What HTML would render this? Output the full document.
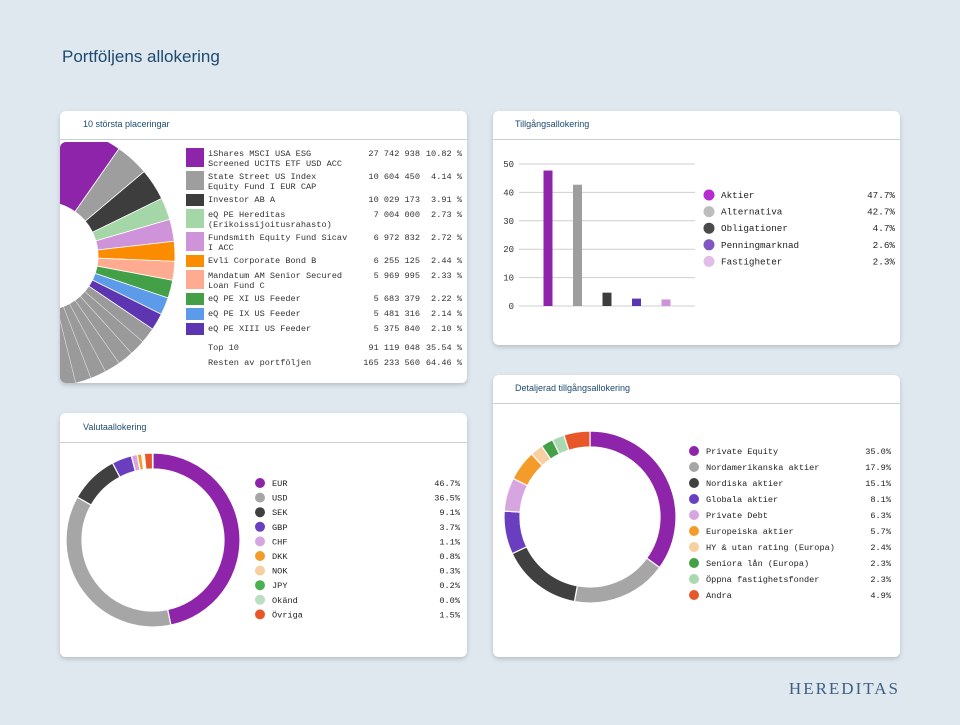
<!DOCTYPE html>
<html><head><meta charset="utf-8"><style>
html,body{margin:0;padding:0;background:#dfe7ef;}
body{width:960px;height:720px;position:relative;overflow:hidden;font-family:"Liberation Sans",sans-serif;}
svg text{font-family:"Liberation Mono",monospace;}
</style></head><body>
<svg id="s" width="960" height="720" viewBox="0 0 960 720" xmlns="http://www.w3.org/2000/svg">
<defs>
<filter id="sh" x="-5%" y="-5%" width="110%" height="115%"><feDropShadow dx="0" dy="2" stdDeviation="2" flood-color="#000" flood-opacity="0.18"/></filter>
<clipPath id="c1"><rect x="60" y="142" width="407" height="241" rx="6"/></clipPath>
</defs>
<text x="62" y="62" font-size="17" fill="#1d4a70" style="font-family:'Liberation Sans',sans-serif">Portföljens allokering</text>
<g filter="url(#sh)">
<rect x="60" y="111" width="407" height="272" rx="6" fill="#fff"/>
<rect x="493" y="111" width="407" height="234" rx="6" fill="#fff"/>
<rect x="60" y="413" width="407" height="244" rx="6" fill="#fff"/>
<rect x="493" y="375" width="407" height="282" rx="6" fill="#fff"/>
</g>
<line x1="60" y1="139.5" x2="467" y2="139.5" stroke="#c9cfd5"/>
<line x1="493" y1="139.5" x2="900" y2="139.5" stroke="#c9cfd5"/>
<line x1="60" y1="442.5" x2="467" y2="442.5" stroke="#c9cfd5"/>
<line x1="493" y1="403.5" x2="900" y2="403.5" stroke="#c9cfd5"/>
<g style="font-family:'Liberation Sans',sans-serif" font-size="9" fill="#1d4a70">
<text x="83" y="127" style="font-family:'Liberation Sans',sans-serif">10 största placeringar</text>
<text x="515" y="127" style="font-family:'Liberation Sans',sans-serif">Tillgångsallokering</text>
<text x="83" y="430" style="font-family:'Liberation Sans',sans-serif">Valutaallokering</text>
<text x="515" y="391" style="font-family:'Liberation Sans',sans-serif">Detaljerad tillgångsallokering</text>
</g>
<text x="900" y="694" text-anchor="end" font-size="17" letter-spacing="2" fill="#3d5f82" style="font-family:'Liberation Serif',serif">HEREDITAS</text>
<g id="g1" clip-path="url(#c1)"></g>
<g id="g1l"></g>
<g id="g2"></g>
<g id="g3"></g>
<g id="g4"></g>
</svg>
<script>
// Top 10 holdings
const topNames=[["iShares MSCI USA ESG","Screened UCITS ETF USD ACC"],["State Street US Index","Equity Fund I EUR CAP"],["Investor AB A"],["eQ PE Hereditas","(Erikoissijoitusrahasto)"],["Fundsmith Equity Fund Sicav","I ACC"],["Evli Corporate Bond B"],["Mandatum AM Senior Secured","Loan Fund C"],["eQ PE XI US Feeder"],["eQ PE IX US Feeder"],["eQ PE XIII US Feeder"]];
const topAmounts=["27 742 938","10 604 450","10 029 173","7 004 000","6 972 832","6 255 125","5 969 995","5 683 379","5 481 316","5 375 840"];
const topPct=[10.82,4.14,3.91,2.73,2.72,2.44,2.33,2.22,2.14,2.10];
const topColors=["#8e24aa","#9e9e9e","#3d3d3d","#a5d6a7","#ce93d8","#fb8c00","#ffab91","#43a047","#5b9bea","#5e35b1"];
const restPct=64.46, top10Amount="91 119 048", restAmount="165 233 560", top10Pct="35.54";
// Asset allocation
const assetCats=["Aktier","Alternativa","Obligationer","Penningmarknad","Fastigheter"];
const assetVals=[47.7,42.7,4.7,2.6,2.3];
const assetBarColors=["#8e24aa","#9e9e9e","#3d3d3d","#5e35b1","#ce93d8"];
const assetDotColors=["#b52bd0","#bdbdbd","#4a4a4a","#7e57c2","#e1bee7"];
const yTicks=[0,10,20,30,40,50];
// Currency
const curCats=["EUR","USD","SEK","GBP","CHF","DKK","NOK","JPY","Okänd","Övriga"];
const curVals=[46.7,36.5,9.1,3.7,1.1,0.8,0.3,0.2,0.0,1.5];
const curColors=["#8e24aa","#a6a6a6","#404040","#6a3fbf","#d7a6e0","#f39c2a","#f8cfa0","#4caf50","#b9dfc0","#e8572a"];
// Detailed
const detCats=["Private Equity","Nordamerikanska aktier","Nordiska aktier","Globala aktier","Private Debt","Europeiska aktier","HY & utan rating (Europa)","Seniora lån (Europa)","Öppna fastighetsfonder","Andra"];
const detVals=[35.0,17.9,15.1,8.1,6.3,5.7,2.4,2.3,2.3,4.9];
const detColors=["#8e24aa","#a6a6a6","#404040","#6a3fbf","#d7a6e0","#f39c2a","#f8cfa0","#43a047","#a9d9b0","#e8572a"];

const NS="http://www.w3.org/2000/svg";
function mk(parent,tag,attrs,txt){const e=document.createElementNS(NS,tag);for(const k in attrs)e.setAttribute(k,attrs[k]);if(txt!==undefined)e.textContent=txt;parent.appendChild(e);return e;}
function pt(cx,cy,r,deg){const a=(deg-90)*Math.PI/180;return [cx+r*Math.cos(a),cy+r*Math.sin(a)];}
function arc(cx,cy,r0,r1,a0,a1){const p1=pt(cx,cy,r1,a0),p2=pt(cx,cy,r1,a1),p3=pt(cx,cy,r0,a1),p4=pt(cx,cy,r0,a0);const lg=(a1-a0)>180?1:0;
return `M${p1[0]},${p1[1]}A${r1},${r1} 0 ${lg} 1 ${p2[0]},${p2[1]}L${p3[0]},${p3[1]}A${r0},${r0} 0 ${lg} 0 ${p4[0]},${p4[1]}Z`;}

// ---- Chart 1
const g1=document.getElementById('g1');
{const cx=44,cy=256,r0=54,r1=131;let a=-4;
 topPct.forEach((v,i)=>{const a1=a+v*3.6;const p=mk(g1,'path',{d:arc(cx,cy,r0,r1,a,a1),fill:topColors[i],stroke:'#fff','stroke-width':0.8});
 
 a=a1;});
 const a1=a+restPct*3.6;const rp=mk(g1,'path',{d:arc(cx,cy,r0,r1,a,a1),fill:'#9a9a9a',stroke:'#fff','stroke-width':0.8});
 
 
 for(let t=a+7;t<a1;t+=7){const q0=pt(cx,cy,r0,t),q1=pt(cx,cy,r1,t);mk(g1,'line',{x1:q0[0],y1:q0[1],x2:q1[0],y2:q1[1],stroke:'#fff','stroke-width':0.6,opacity:0.7});}
}
const g1l=document.getElementById('g1l');
{let y=148;
 topNames.forEach((lines,i)=>{const h=lines.length===2?20:13;
  const sw=mk(g1l,'rect',{x:186,y:y,width:18,height:h===20?19:12,fill:topColors[i]});
  
  
  lines.forEach((l,j)=>{const t=mk(g1l,'text',{x:208,y:y+8+j*10,'font-size':8.6,fill:'#333'},l);
   
   });
  const n=mk(g1l,'text',{x:420,y:y+8,'font-size':8.6,fill:'#333','text-anchor':'end'},topAmounts[i]);
  
  
  const p=mk(g1l,'text',{x:462,y:y+8,'font-size':8.6,fill:'#333','text-anchor':'end'},topPct[i].toFixed(2)+" %");
  
  
  y+=h+(h===20?3:2);
 });
 [["Top 10",top10Amount,top10Pct+" %",350],["Resten av portföljen",restAmount,(restPct.toFixed(2))+" %",365]].forEach(r=>{
  const a=mk(g1l,'text',{x:208,y:r[3],'font-size':8.6,fill:'#333'},r[0]);
  const b=mk(g1l,'text',{x:420,y:r[3],'font-size':8.6,fill:'#333','text-anchor':'end'},r[1]);
  const c=mk(g1l,'text',{x:462,y:r[3],'font-size':8.6,fill:'#333','text-anchor':'end'},r[2]);
 });
}

// ---- Chart 2 bar
const g2=document.getElementById('g2');
{const y0=306,y50=164,x0=519,x1=695;const ys=v=>y0-(v/50)*(y0-y50);
 yTicks.forEach(t=>{mk(g2,'line',{x1:x0,x2:x1,y1:ys(t),y2:ys(t),stroke:'#cfcfcf','stroke-width':1});
  const tl=mk(g2,'text',{x:514,y:ys(t)+3,'font-size':9,fill:'#333','text-anchor':'end'},String(t));
  
  });
 const step=29.5,first=548;
 assetVals.forEach((v,i)=>{const cx=first+i*step;const b=mk(g2,'rect',{x:cx-4.5,y:ys(v),width:9,height:y0-ys(v),fill:assetBarColors[i]});
  
  });
 assetCats.forEach((c,i)=>{const y=195+i*16.6;
  const d=mk(g2,'circle',{cx:709,cy:y,r:5.5,fill:assetDotColors[i]});
  const t=mk(g2,'text',{x:721,y:y+3,'font-size':9.3,fill:'#222'},c);
  const v=mk(g2,'text',{x:895,y:y+3,'font-size':9.3,fill:'#222','text-anchor':'end'},assetVals[i].toFixed(1)+"%");});
}

// ---- donut helper
function donut(g,cx,cy,r0,r1,vals,cols,cats,prefix){let a=0;
 vals.forEach((v,i)=>{if(v<=0)return;const a1=a+v*3.6;const p=mk(g,'path',{d:arc(cx,cy,r0,r1,a,a1),fill:cols[i],stroke:'#fff','stroke-width':1.2});
  
  a=a1;});}
function legend(g,x,y0,dy,xr,cats,vals,cols,fs,prefix){cats.forEach((c,i)=>{const y=y0+i*dy;
 const d=mk(g,'circle',{cx:x,cy:y,r:5,fill:cols[i]});
 const t=mk(g,'text',{x:x+12,y:y+3,'font-size':fs,fill:'#222'},c);
 const v=mk(g,'text',{x:xr,y:y+3,'font-size':fs,fill:'#222','text-anchor':'end'},vals[i].toFixed(1)+"%");});}

const g3=document.getElementById('g3');
donut(g3,153,540,71,87,curVals,curColors,curCats,'currency');
legend(g3,260,483,14.6,460,curCats,curVals,curColors,8.6,'currency');
const g4=document.getElementById('g4');
donut(g4,590,517,70,86,detVals,detColors,detCats,'detail');
legend(g4,694,451,16,891,detCats,detVals,detColors,8.6,'detail');
</script>
</body></html>
